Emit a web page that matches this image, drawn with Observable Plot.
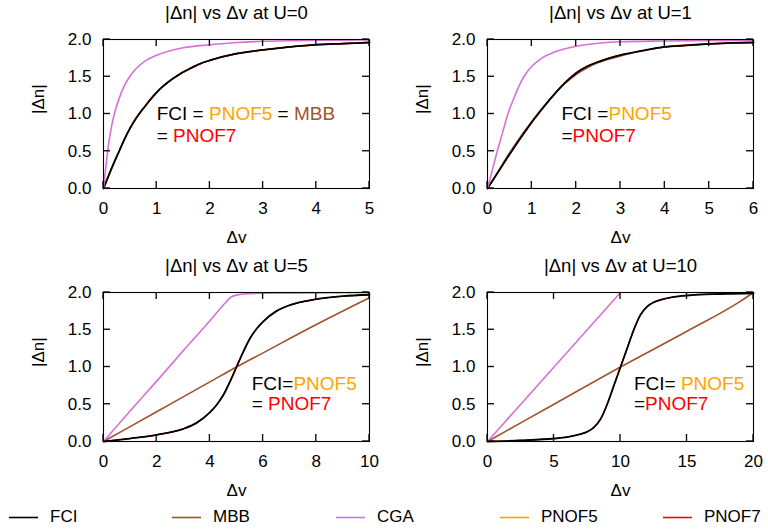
<!DOCTYPE html>
<html>
<head>
<meta charset="utf-8">
<script src="https://cdn.jsdelivr.net/npm/d3@7"></script>
<script src="https://cdn.jsdelivr.net/npm/@observablehq/plot@0.6"></script>
<style>
  html, body { margin: 0; padding: 0; background: #fff; }
  #root { position: relative; width: 768px; height: 531px; overflow: hidden; font-family: "Liberation Sans", Arial, sans-serif; }
  .panel { position: absolute; width: 384px; height: 250px; }
  .legend { position: absolute; top: 505px; left: 0; width: 768px; height: 24px; }
  .item { position: absolute; top: 0; height: 24px; font-size: 17px; line-height: 24px; color: #000; white-space: nowrap; }
  .item svg { position: absolute; top: 11px; left: 0; }
  .item span { position: absolute; left: 41px; top: 0; }
</style>
</head>
<body>
<div id="root"></div>
<script>
// ---- series names and colours ----
const seriesNames = ["FCI", "MBB", "CGA", "PNOF5", "PNOF7"];
const seriesColors = ["#000000", "#a0522d", "#da70d6", "#ffa500", "#ff0000"];

// ---- panel titles, x domains and ticks ----
const titles = ["|Δn| vs Δv at U=0", "|Δn| vs Δv at U=1", "|Δn| vs Δv at U=5", "|Δn| vs Δv at U=10"];
const xMax = [5, 6, 10, 20];
const xTicks = [[0, 1, 2, 3, 4, 5], [0, 1, 2, 3, 4, 5, 6], [0, 2, 4, 6, 8, 10], [0, 5, 10, 15, 20]];
const yTicks = [0, 0.5, 1, 1.5, 2];

// ---- curves (Δv, |Δn|) ----
const fciU0 = [[0,0],[0.1,0.18],[0.2,0.35],[0.3,0.51],[0.4,0.67],[0.5,0.81],[0.6,0.93],[0.7,1.03],[0.8,1.12],[0.9,1.21],[1.0,1.29],[1.1,1.36],[1.2,1.42],[1.4,1.52],[1.6,1.6],[1.8,1.67],[2,1.72],[2.5,1.81],[3,1.86],[3.5,1.9],[4,1.93],[4.5,1.945],[5,1.96]];
const cgaU0 = [[0,0],[0.05,0.33],[0.1,0.62],[0.15,0.83],[0.2,0.99],[0.3,1.22],[0.4,1.39],[0.5,1.51],[0.6,1.6],[0.8,1.72],[1,1.79],[1.25,1.85],[1.5,1.89],[2,1.93],[2.5,1.96],[3,1.975],[4,1.99],[5,1.995]];

const fciU1 = [[0,0],[0.25,0.23],[0.5,0.46],[0.75,0.68],[1,0.89],[1.25,1.08],[1.5,1.26],[1.75,1.42],[2,1.55],[2.25,1.64],[2.5,1.7],[2.75,1.75],[3,1.79],[3.5,1.85],[4,1.9],[4.5,1.92],[5,1.94],[5.5,1.955],[6,1.96]];
const mbbU1 = [[0,0],[0.25,0.24],[0.5,0.48],[0.75,0.7],[1,0.9],[1.25,1.09],[1.5,1.26],[1.75,1.41],[2,1.53],[2.25,1.62],[2.5,1.69],[2.75,1.74],[3,1.78],[3.5,1.85],[4,1.9],[5,1.94],[6,1.96]];
const cgaU1 = [[0,0],[0.11,0.25],[0.22,0.5],[0.34,0.75],[0.46,1.0],[0.6,1.22],[0.7,1.36],[0.82,1.5],[1,1.64],[1.25,1.76],[1.5,1.83],[2,1.91],[2.5,1.95],[3,1.97],[4,1.98],[6,1.99]];

const fciU5 = [[0,0],[1,0.04],[2,0.09],[3,0.17],[3.5,0.25],[4,0.39],[4.25,0.49],[4.5,0.62],[4.75,0.8],[5,1.0],[5.25,1.2],[5.5,1.38],[5.75,1.51],[6,1.61],[6.5,1.75],[7,1.83],[8,1.91],[9,1.95],[10,1.97]];
const mbbU5 = [[0,0],[2,0.4],[4,0.8],[5,1.0],[6,1.19],[8,1.57],[10,1.93]];
const cgaU5 = [[0,0],[1,0.41],[2,0.81],[3,1.22],[4,1.62],[4.6,1.87],[4.8,1.94],[5,1.965],[5.3,1.98],[6,1.99],[8,1.995],[10,2.0]];

const fciU10 = [[0,0],[2.5,0.015],[5,0.04],[6,0.06],[7,0.1],[7.5,0.13],[8,0.19],[8.5,0.3],[9,0.5],[9.5,0.75],[10,1.0],[10.5,1.25],[11,1.5],[11.5,1.7],[12,1.81],[12.5,1.87],[13,1.9],[14,1.94],[15,1.96],[17.5,1.98],[20,1.99]];
const mbbU10 = [[0,0],[5,0.5],[10,1.0],[15,1.48],[19,1.88],[19.5,1.94],[20,2.0]];
const cgaU10 = [[0,0],[5,1.0],[10,2.0]];

// ---- annotations: segments [text, series colour], anchor (Δv, |Δn|) per line ----
const annotLines = [
  [[["FCI = ","FCI"],["PNOF5","PNOF5"],[" = ","FCI"],["MBB","MBB"]], [["= ","FCI"],["PNOF7","PNOF7"]]],
  [[["FCI =","FCI"],["PNOF5","PNOF5"]], [["=","FCI"],["PNOF7","PNOF7"]]],
  [[["FCI=","FCI"],["PNOF5","PNOF5"]], [["= ","FCI"],["PNOF7","PNOF7"]]],
  [[["FCI= ","FCI"],["PNOF5","PNOF5"]], [["=","FCI"],["PNOF7","PNOF7"]]]
];
const annotX = [1.01, 1.68, 5.59, 11.05];
const annotY = [[1.0, 0.71], [1.0, 0.71], [0.77, 0.5], [0.78, 0.5]];

// ---- per panel series (PNOF5 = PNOF7 = FCI; MBB = FCI at U=0) ----
const panels = [
  {fci: fciU0, mbb: fciU0, cga: cgaU0},
  {fci: fciU1, mbb: mbbU1, cga: cgaU1},
  {fci: fciU5, mbb: mbbU5, cga: cgaU5},
  {fci: fciU10, mbb: mbbU10, cga: cgaU10}
];
const positions = [[0, 0], [384, 0], [0, 253], [384, 253]];

const colorOf = Object.fromEntries(seriesNames.map((n, i) => [n, seriesColors[i]]));
const FONT = '"Liberation Sans", Arial, sans-serif';

const W = 384, H = 250, MT = 39, MB = 62, ML = 103, MR = 15, TICK = 7;

function annotMark(lines, ax, ays) {
  return (index, scales) => {
    const g = d3.create("svg:g").attr("font-size", 19).attr("font-family", FONT).attr("text-anchor", "start");
    lines.forEach((segs, li) => {
      const t = g.append("text")
        .attr("x", scales.x(ax)).attr("y", scales.y(ays[li]))
        .attr("dy", "0.35em").attr("text-anchor", "start").style("white-space", "pre");
      segs.forEach(([s, n]) => t.append("tspan").attr("fill", colorOf[n]).text(s));
    });
    return g.node();
  };
}

// inward (mirrored) ticks on all four sides, placed with the plot's own scales
function inwardTicks(xt, yt) {
  return (index, scales) => {
    const g = d3.create("svg:g").attr("stroke", "#111").attr("stroke-width", 1.4);
    const yb = H - MB, ytop = MT, xl = ML, xr = W - MR;
    xt.forEach(t => {
      const px = scales.x(t);
      g.append("line").attr("x1", px).attr("x2", px).attr("y1", yb).attr("y2", yb - TICK);
      g.append("line").attr("x1", px).attr("x2", px).attr("y1", ytop).attr("y2", ytop + TICK);
    });
    yt.forEach(t => {
      const py = scales.y(t);
      g.append("line").attr("x1", xl).attr("x2", xl + TICK).attr("y1", py).attr("y2", py);
      g.append("line").attr("x1", xr).attr("x2", xr - TICK).attr("y1", py).attr("y2", py);
    });
    return g.node();
  };
}

function line(data, name, width) {
  return Plot.line(data, {x: d => d[0], y: d => d[1], stroke: colorOf[name], strokeWidth: width, curve: "monotone-x"});
}

const root = document.getElementById("root");

panels.forEach((p, i) => {
  const chart = Plot.plot({
    width: W, height: H,
    marginTop: MT, marginBottom: MB, marginLeft: ML, marginRight: MR,
    style: {fontFamily: FONT, fontSize: "17px", color: "#000", background: "transparent", overflow: "visible"},
    x: {domain: [0, xMax[i]], label: null},
    y: {domain: [0, 2], label: null},
    marks: [
      line(p.fci, "PNOF5", 1.2),
      line(p.fci, "PNOF7", 1.2),
      line(p.mbb, "MBB", 1.6),
      line(p.fci, "FCI", 1.8),
      line(p.cga, "CGA", 1.6),
      inwardTicks(xTicks[i], yTicks),
      Plot.frame({stroke: "#000", strokeWidth: 1.1}),
      Plot.axisX(xTicks[i], {anchor: "bottom", tickSize: 0, tickPadding: 13, label: null, tickFormat: d => String(d), fontSize: 17}),
      Plot.axisY(yTicks, {anchor: "left", tickSize: 0, tickPadding: 12, label: null, tickFormat: d3.format(".1f"), fontSize: 17}),
      Plot.text(["Δv"], {text: d => d, frameAnchor: "bottom", dy: 49, lineAnchor: "middle", fontSize: 17}),
      Plot.text(["|Δn|"], {text: d => d, frameAnchor: "left", dx: -65, rotate: -90, lineAnchor: "middle", fontSize: 17}),
      Plot.text([titles[i]], {text: d => d, frameAnchor: "top", dy: -26, lineAnchor: "middle", fontSize: 18.5}),
      annotMark(annotLines[i], annotX[i], annotY[i])
    ]
  });
  const div = document.createElement("div");
  div.className = "panel";
  div.style.left = positions[i][0] + "px";
  div.style.top = positions[i][1] + "px";
  div.appendChild(chart);
  root.appendChild(div);
});

// ---- legend ----
const legend = document.createElement("div");
legend.className = "legend";
const legendLeft = [9, 172, 336, 500, 663];
seriesNames.forEach((n, i) => {
  const item = document.createElement("div");
  item.className = "item";
  item.style.left = legendLeft[i] + "px";
  item.innerHTML = `<svg width="29" height="3"><line x1="0" x2="29" y1="1.5" y2="1.5" stroke="${colorOf[n]}" stroke-width="1.6"/></svg><span>${n}</span>`;
  legend.appendChild(item);
});
root.appendChild(legend);
</script>
</body>
</html>
